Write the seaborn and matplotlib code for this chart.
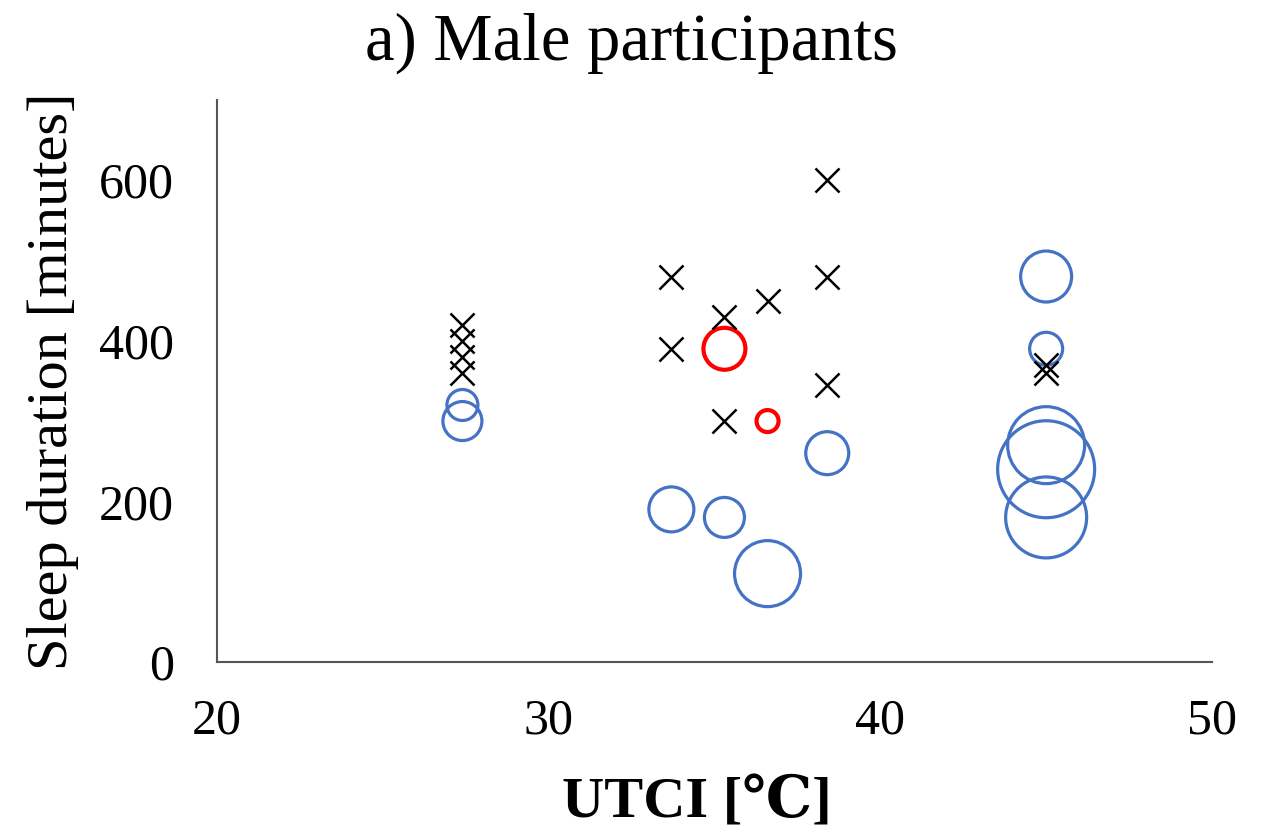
import matplotlib
matplotlib.use("Agg")
import matplotlib.pyplot as plt
import seaborn as sns
import pandas as pd

# crosses (black x markers)
cross_utci = [27.4, 27.4, 27.4, 27.4, 33.7, 33.7, 35.3, 35.3, 36.6, 38.4, 38.4, 38.4, 45.0, 45.0]
cross_sleep = [420, 400, 380, 360, 480, 390, 430, 300, 450, 600, 480, 345, 370, 360]

# blue bubbles
blue_utci = [27.4, 27.4, 33.7, 35.3, 36.6, 38.4, 45.0, 45.0, 45.0, 45.0, 45.0]
blue_sleep = [320, 300, 190, 180, 110, 260, 480, 390, 270, 240, 180]
blue_mag = [240, 380, 506, 400, 1089, 462, 650, 272, 1482, 2352, 1640]

# red bubbles
red_utci = [35.3, 36.6]
red_sleep = [390, 300]
red_mag = [440, 121]

sns.set_style("white")
plt.rcParams["font.family"] = ["Liberation Serif", "DejaVu Serif"]
plt.rcParams["text.color"] = "black"
plt.rcParams["axes.labelcolor"] = "black"
plt.rcParams["xtick.color"] = "black"
plt.rcParams["ytick.color"] = "black"

fig = plt.figure(figsize=(12.63, 8.39), dpi=100)
ax = fig.add_axes([0.1718, 0.211, 0.7878, 0.670])

blue_df = pd.DataFrame({"utci": blue_utci, "sleep": blue_sleep, "mag": blue_mag})
red_df = pd.DataFrame({"utci": red_utci, "sleep": red_sleep, "mag": red_mag})
cross_df = pd.DataFrame({"utci": cross_utci, "sleep": cross_sleep})

# marker area (pt^2) per unit of magnitude
k = 2.0736
sns.scatterplot(data=blue_df, x="utci", y="sleep", size="mag",
                sizes=(0, k * max(blue_mag)), size_norm=(0, max(blue_mag)),
                facecolors="none", edgecolor="#4472C4",
                linewidth=2.3, legend=False, ax=ax, zorder=2)
sns.scatterplot(data=red_df, x="utci", y="sleep", size="mag",
                sizes=(0, k * max(red_mag)), size_norm=(0, max(red_mag)),
                facecolors="none", edgecolor="#FF0000",
                linewidth=3.0, legend=False, ax=ax, zorder=3)
sns.scatterplot(data=cross_df, x="utci", y="sleep", marker="x", s=300, color="black",
                linewidth=1.8, legend=False, ax=ax, zorder=4)

ax.set_xlim(20, 50)
ax.set_ylim(0, 700)
ax.set_xticks([20, 30, 40, 50])
ax.set_yticks([0, 200, 400, 600])
ax.tick_params(axis="both", length=0, labelsize=36)
ax.tick_params(axis="x", pad=26)
ax.tick_params(axis="y", pad=31)

for side in ["top", "right"]:
    ax.spines[side].set_visible(False)
for side in ["left", "bottom"]:
    ax.spines[side].set_color("#555555")
    ax.spines[side].set_linewidth(1.5)

ax.set_xlabel("UTCI [℃]", fontsize=42, fontweight="bold", labelpad=22)
ax.xaxis.set_label_coords(0.482, -0.205)
ax.set_ylabel("Sleep duration [minutes]", fontsize=42, labelpad=14)
fig.suptitle("a) Male participants", fontsize=48, x=0.5, y=0.985, va="top")

fig.savefig("out.png", dpi=100)
